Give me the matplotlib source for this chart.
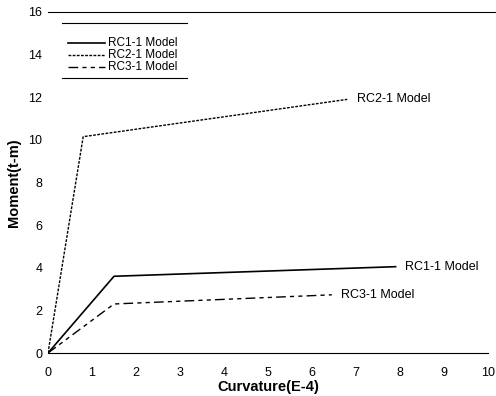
import numpy as np
import matplotlib.pyplot as plt

plt.rcParams['font.family'] = ['Liberation Sans', 'DejaVu Sans']

# moment-curvature models (curvature in E-4, moment in t-m)
rc1_x = [0.0, 1.5, 7.9]
rc1_y = [0.0, 3.6, 4.05]
rc2_x = [0.0, 0.8, 6.8]
rc2_y = [0.0, 10.15, 11.9]
rc3_x = [0.0, 1.5, 6.45]
rc3_y = [0.0, 2.3, 2.73]

names = ["RC1-1 Model", "RC2-1 Model", "RC3-1 Model"]
xticks = np.arange(0, 11, 1)
yticks = np.arange(0, 17, 2)

fig = plt.figure(figsize=(4.96, 3.96), dpi=100)
ax = fig.add_axes([48/496, 43/396, 440/496, 341/396])

styles = [dict(lw=1.2, linestyle='-'),
          dict(lw=1.0, dashes=(2, 1)),
          dict(lw=1.0, dashes=(7, 3, 3, 3, 3, 3))]
series = [(rc1_x, rc1_y), (rc2_x, rc2_y), (rc3_x, rc3_y)]

for (xs, ys), st, nm in zip(series, styles, names):
    ax.plot(xs, ys, color='black', **st)
    # label at end of curve
    ax.text(xs[-1] + 0.22, ys[-1], nm, fontsize=9, va='center', ha='left')

ax.set_xlim(0, 10)
ax.set_ylim(0, 16)
ax.set_xticks(xticks)
ax.set_yticks(yticks)
ax.tick_params(axis='x', length=0, labelsize=9, pad=10)
ax.tick_params(axis='y', length=0, labelsize=9, pad=4)
ax.spines['left'].set_visible(False)
ax.spines['right'].set_visible(False)
ax.spines['top'].set_visible(False)
ax.spines['bottom'].set_linewidth(0.8)
# top rule runs out to the figure edge
ax.plot([0, 1.018], [1, 1], transform=ax.transAxes, color='black', lw=0.8, clip_on=False)

ax.set_xlabel('Curvature(E-4)', fontsize=10.5, fontweight='bold', labelpad=1)
ax.set_ylabel('Moment(t-m)', fontsize=10.5, fontweight='bold', labelpad=5)

# hand-made legend with rules above and below
rows = [0.910, 0.875, 0.840]
for yy, st, nm in zip(rows, styles, names):
    ax.plot([0.045, 0.13], [yy, yy], transform=ax.transAxes, color='black', clip_on=False, **st)
    ax.text(0.137, yy, nm, transform=ax.transAxes, fontsize=8.5, va='center', ha='left')
for yy in [0.968, 0.806]:
    ax.plot([0.032, 0.316], [yy, yy], transform=ax.transAxes, color='black', lw=0.8)

fig.savefig('out.png', dpi=100)
